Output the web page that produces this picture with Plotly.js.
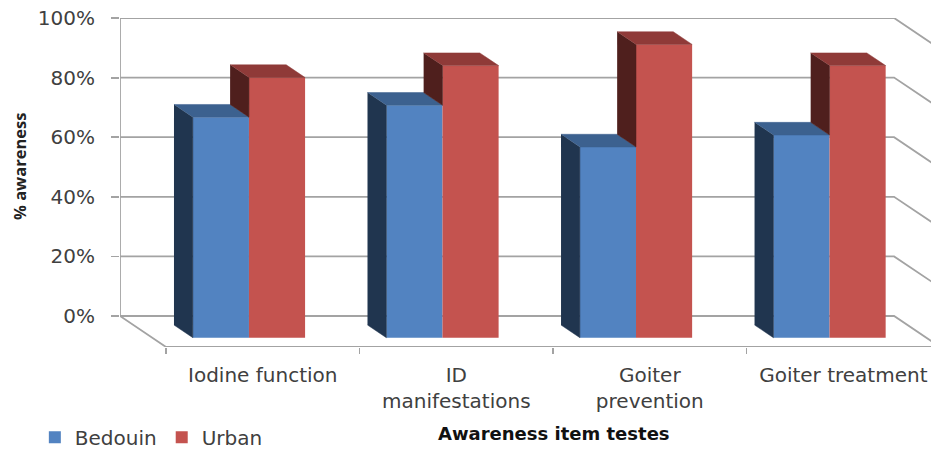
<!DOCTYPE html>
<html>
<head>
<meta charset="utf-8">
<script src="https://cdn.plot.ly/plotly-3.0.1.min.js"></script>
<style>html,body{margin:0;padding:0;background:#fff;overflow:hidden}</style>
</head>
<body>
<div id="chart" style="width:931px;height:449px"></div>
<script>
var categories = ["Iodine function", "ID<br>manifestations", "Goiter<br>prevention", "Goiter treatment"];
var bedouin = [74, 78, 64, 68];
var urban = [87.3, 91.3, 98.4, 91.3];
var yTicks = [0, 20, 40, 60, 80, 100];
var yLabels = ["0%", "20%", "40%", "60%", "80%", "100%"];
var blue = {front: "#5283C1", side: "#20354F", top: "#3C618F"};
var red = {front: "#C4534F", side: "#4F1F1D", top: "#8F3A38"};
var gridColor = "#A3A3A3";

// simple oblique projection: depth 0 = back wall, depth 1 = front of floor
var dx = 0.2377, dy = 10.4;
var D_BACK = 0.29, D_FRONT = 0.7, HALF = 0.29;
function px(x, d) { return x - dx * (1 - d); }
function py(v, d) { return v - dy * d; }
function poly(name, pts, color) {
  return {type: "scatter", mode: "lines", x: pts.map(function (p) { return px(p[0], p[1]); }),
    y: pts.map(function (p) { return py(p[2], p[1]); }), fill: "toself", fillcolor: color,
    line: {color: color, width: 0.5}, hoverinfo: "skip", showlegend: false, xaxis: "x2", yaxis: "y2", name: name};
}
var nCat = categories.length;
var traces = [];

// back wall grid, right wall diagonals
yTicks.forEach(function (v) {
  traces.push({type: "scatter", mode: "lines", x: [px(0, 0), px(nCat, 0), px(nCat, 1)], y: [py(v, 0), py(v, 0), py(v, 1)],
    line: {color: gridColor, width: 1.8}, hoverinfo: "skip", showlegend: false});
});
// left wall edge, left floor edge, front floor edge
traces.push({type: "scatter", mode: "lines", x: [px(0, 0), px(0, 0), px(0, 1), px(nCat, 1)],
  y: [py(100, 0), py(0, 0), py(0, 1), py(0, 1)],
  line: {color: gridColor, width: 1.8}, hoverinfo: "skip", showlegend: false});

var idx = categories.map(function (c, i) { return i; });
// front faces
traces.push({type: "bar", name: "Bedouin", x: idx.map(function (i) { return px(i + 0.5 - HALF / 2, D_FRONT); }),
  y: bedouin, base: py(0, D_FRONT), width: HALF, marker: {color: blue.front}, xaxis: "x2", yaxis: "y2", hoverinfo: "skip"});
traces.push({type: "bar", name: "Urban", x: idx.map(function (i) { return px(i + 0.5 + HALF / 2, D_FRONT); }),
  y: urban, base: py(0, D_FRONT), width: HALF, marker: {color: red.front}, xaxis: "x2", yaxis: "y2", hoverinfo: "skip"});
// side and top faces
idx.forEach(function (i) {
  var l = i + 0.5 - HALF, m = i + 0.5, r = i + 0.5 + HALF, b = bedouin[i], u = urban[i];
  traces.push(poly("side", [[l, D_BACK, 0], [l, D_FRONT, 0], [l, D_FRONT, b], [l, D_BACK, b]], blue.side));
  traces.push(poly("top", [[l, D_BACK, b], [m, D_BACK, b], [m, D_FRONT, b], [l, D_FRONT, b]], blue.top));
  traces.push(poly("side", [[m, D_BACK, b], [m, D_FRONT, b], [m, D_FRONT, u], [m, D_BACK, u]], red.side));
  traces.push(poly("top", [[m, D_BACK, u], [r, D_BACK, u], [r, D_FRONT, u], [m, D_FRONT, u]], red.top));
});

var fnt = "DejaVu Sans, sans-serif";
var xr = [-dx, 3.953], yr = [-dy, 100];
var layout = {
  width: 931, height: 449, paper_bgcolor: "#fff", plot_bgcolor: "#fff",
  margin: {l: 120, r: 0, t: 18, b: 102, autoexpand: false},
  barmode: "overlay", showlegend: true,
  legend: {orientation: "h", x: -0.105, y: -0.274, yanchor: "middle", xanchor: "left",
    font: {family: fnt, size: 20, color: "#404040"}, itemwidth: 30, tracegroupgap: 0},
  xaxis: {range: xr, tickvals: [0, 1, 2, 3], ticks: "outside", ticklen: 6, tickcolor: gridColor, tickwidth: 1.8,
    showticklabels: false, showgrid: false, zeroline: false, showline: false, fixedrange: true},
  yaxis: {range: yr, tickvals: yTicks, ticktext: yLabels, ticks: "outside", ticklen: 8, tickcolor: gridColor, tickwidth: 1.8,
    ticklabelstandoff: 12, showgrid: false, zeroline: false, showline: false, fixedrange: true,
    tickfont: {family: fnt, size: 20, color: "#404040"}},
  xaxis2: {range: xr, overlaying: "x", anchor: "y2", side: "bottom", tickvals: idx.map(function (i) { return i + 0.5; }),
    ticktext: categories, ticks: "", ticklabelstandoff: 14, showgrid: false, zeroline: false, showline: false, fixedrange: true,
    tickfont: {family: fnt, size: 20, color: "#404040"}},
  yaxis2: {range: yr, overlaying: "y", anchor: "x2", visible: false, fixedrange: true},
  annotations: [
    {text: "<b>Awareness item testes</b>", xref: "paper", yref: "paper", x: (553.5 - 120) / 811, y: (347 - 433) / 329,
      xanchor: "center", yanchor: "middle", showarrow: false, font: {family: fnt, size: 18, color: "#111"}},
    {text: "<b>% awareness</b>", xref: "paper", yref: "paper", x: (19 - 120) / 811, y: (347 - 167) / 329, textangle: -90,
      xanchor: "center", yanchor: "middle", showarrow: false, font: {family: "Open Sans, sans-serif", size: 16.5, color: "#222"}}
  ]
};
Plotly.newPlot("chart", traces, layout, {displayModeBar: false, staticPlot: true});
</script>
</body>
</html>
